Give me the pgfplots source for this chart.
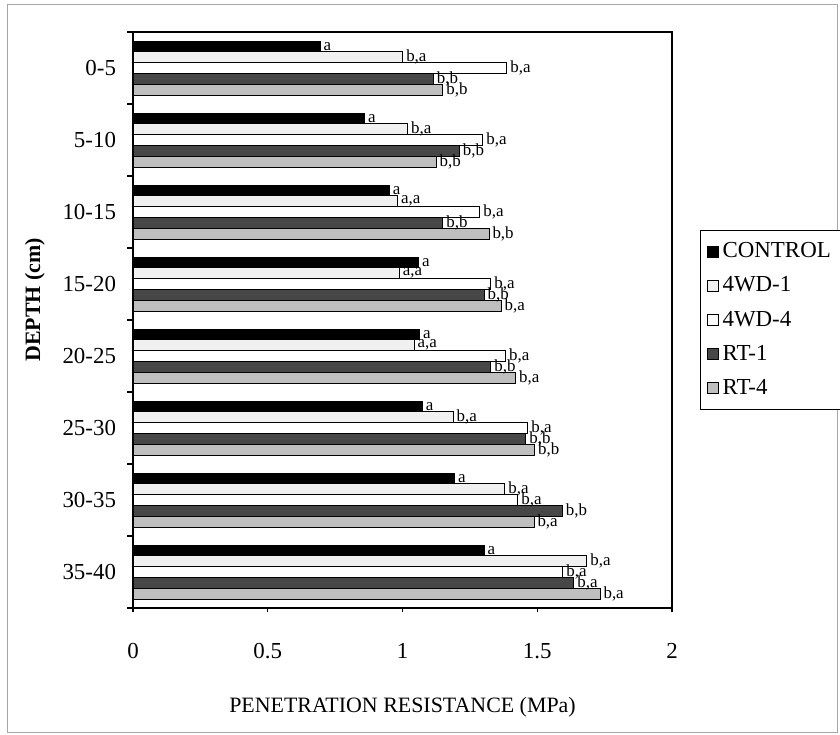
\documentclass[border=0pt]{standalone}
\usepackage{pgfplots}
\pgfplotsset{compat=1.18}
\usepackage{pgfplotstable}
\usepackage{fontspec}
\setmainfont{Liberation Serif}

\pgfplotstableread{
d v lab
7 0.694 a
6 0.859 a
5 0.951 a
4 1.060 a
3 1.064 a
2 1.074 a
1 1.193 a
0 1.303 a
}\control
\pgfplotstableread{
d v lab
7 1.001 b,a
6 1.019 b,a
5 0.982 a,a
4 0.988 a,a
3 1.043 a,a
2 1.188 b,a
1 1.380 b,a
0 1.684 b,a
}\wdone
\pgfplotstableread{
d v lab
7 1.387 b,a
6 1.298 b,a
5 1.287 b,a
4 1.328 b,a
3 1.383 b,a
2 1.465 b,a
1 1.428 b,a
0 1.595 b,a
}\wdfour
\pgfplotstableread{
d v lab
7 1.115 b,b
6 1.211 b,b
5 1.150 b,b
4 1.303 b,b
3 1.328 b,b
2 1.458 b,b
1 1.593 b,b
0 1.636 b,a
}\rtone
\pgfplotstableread{
d v lab
7 1.150 b,b
6 1.125 b,b
5 1.321 b,b
4 1.366 b,a
3 1.420 b,a
2 1.490 b,b
1 1.488 b,a
0 1.733 b,a
}\rtfour

\begin{document}
\begin{tikzpicture}
\useasboundingbox (0,0) rectangle (420bp,367.5bp);
\draw[gray!70, line width=0.5bp] (3.5bp,1.5bp) rectangle (418.5bp,365bp);
\begin{axis}[
  at={(66.5bp,63.5bp)}, anchor=south west,
  scale only axis, width=269.5bp, height=288bp,
  xbar, bar width=0.15,
  xmin=0, xmax=2, ymin=-0.5, ymax=7.5,
  axis line style={line width=0.9bp},
  xtick={0,0.5,1,1.5,2},
  xticklabels={0,0.5,1,1.5,2},
  xtick pos=bottom, ytick pos=left,
  tick align=outside,
  major tick length=2bp,
  ytick={0,...,7},
  yticklabels={35-40,30-35,25-30,20-25,15-20,10-15,5-10,0-5},
  minor ytick={-0.5,0.5,...,7.5},
  minor tick length=3bp,
  major y tick style={draw=none},
  tick style={black, line width=0.6bp},
  ticklabel style={font=\fontsize{11.5}{13}\selectfont},
  xticklabel style={yshift=-12bp},
  yticklabel style={xshift=-3bp},
  xlabel={PENETRATION RESISTANCE (MPa)},
  xlabel style={at={(axis description cs:0.5,-0.172)}, anchor=center, font=\fontsize{11}{13}\selectfont},
  ylabel={\textbf{DEPTH (cm)}},
  ylabel style={at={(axis description cs:-0.182,0.535)}, anchor=center, rotate=0, font=\fontsize{11}{13}\selectfont},
  nodes near coords,
  nodes near coords align={horizontal},
  point meta=explicit symbolic,
  every node near coord/.append style={font=\fontsize{8.5}{8.5}\selectfont, inner xsep=1.5bp, inner ysep=0.5bp, black, anchor=west},
  legend style={at={(1.052,0.656)}, anchor=north west, draw=black, line width=0.6bp,
    font=\fontsize{11.5}{13}\selectfont, row sep=4bp, inner xsep=3bp, inner ysep=4bp,
    nodes={text width=56bp}},
  legend cell align=left,
  legend image code/.code={\draw[#1, draw=black, line width=0.5bp] (0bp,-2.75bp) rectangle (5.5bp,2.75bp);},
]
\addplot[fill=black, draw=black, line width=0.5bp, bar shift=0.3] table[x=v, y=d, meta=lab] {\control};
\addlegendentry{CONTROL}
\addplot[fill=gray!12, draw=black, line width=0.5bp, bar shift=0.15] table[x=v, y=d, meta=lab] {\wdone};
\addlegendentry{4WD-1}
\addplot[fill=white, draw=black, line width=0.5bp, bar shift=0] table[x=v, y=d, meta=lab] {\wdfour};
\addlegendentry{4WD-4}
\addplot[fill=black!72, draw=black, line width=0.5bp, bar shift=-0.15] table[x=v, y=d, meta=lab] {\rtone};
\addlegendentry{RT-1}
\addplot[fill=gray!50, draw=black, line width=0.5bp, bar shift=-0.3] table[x=v, y=d, meta=lab] {\rtfour};
\addlegendentry{RT-4}
\end{axis}
\end{tikzpicture}
\end{document}
